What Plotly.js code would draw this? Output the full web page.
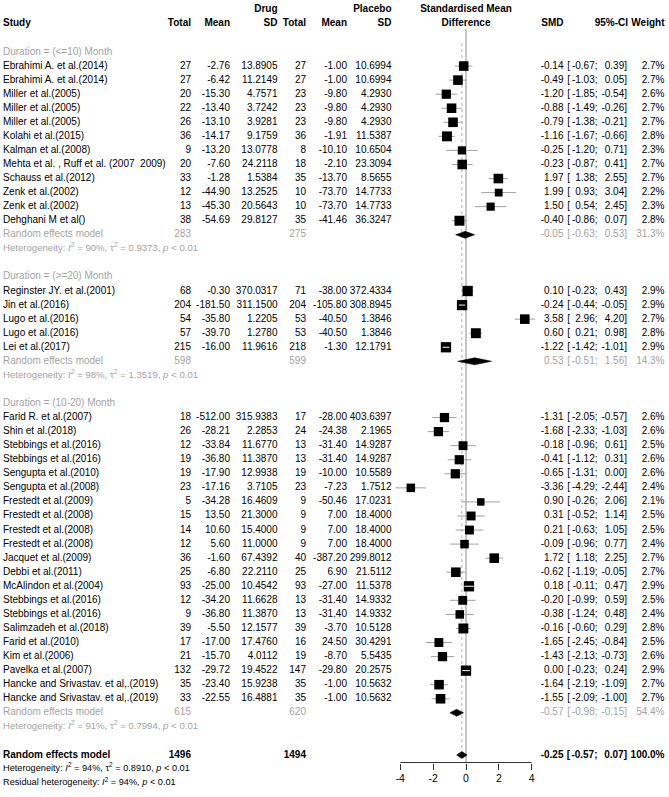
<!DOCTYPE html>
<html>
<head>
<meta charset="utf-8">
<script src="https://cdn.plot.ly/plotly-3.0.1.min.js"></script>
<style>
  html, body { margin: 0; padding: 0; background: #fff; }
  #chart { width: 669px; height: 797px; }
</style>
</head>
<body>
<div id="chart"></div>
<script>
// ---- data ----
const studies = [
  "Ebrahimi A. et al.(2014)", "Ebrahimi A. et al.(2014)", "Miller et al.(2005)", "Miller et al.(2005)",
  "Miller et al.(2005)", "Kolahi et al.(2015)", "Kalman et al.(2008)", "Mehta et al. , Ruff et al. (2007  2009)",
  "Schauss et al.(2012)", "Zenk et al.(2002)", "Zenk et al.(2002)", "Dehghani M et al()",
  "Reginster JY. et al.(2001)", "Jin et al.(2016)", "Lugo et al.(2016)", "Lugo et al.(2016)", "Lei et al.(2017)",
  "Farid R. et al.(2007)", "Shin et al.(2018)", "Stebbings et al.(2016)", "Stebbings et al.(2016)",
  "Sengupta et al.(2010)", "Sengupta et al.(2008)", "Frestedt et al.(2009)", "Frestedt et al.(2008)",
  "Frestedt et al.(2008)", "Frestedt et al.(2008)", "Jacquet et al.(2009)", "Debbi et al.(2011)",
  "McAlindon et al.(2004)", "Stebbings et al.(2016)", "Stebbings et al.(2016)", "Salimzadeh et al.(2018)",
  "Farid et al.(2010)", "Kim et al.(2006)", "Pavelka et al.(2007)",
  "Hancke and Srivastav. et al,.(2019)", "Hancke and Srivastav. et al,.(2019)"
]
const group = [0,0,0,0,0,0,0,0,0,0,0,0, 1,1,1,1,1, 2,2,2,2,2,2,2,2,2,2,2,2,2,2,2,2,2,2,2,2,2]

const drugN = [27,27,20,22,26,36,9,20,33,12,13,38, 68,204,54,57,215,
  18,26,12,19,19,23,5,15,14,12,36,25,93,12,9,39,17,21,132,35,33]
const drugMean = [-2.76,-6.42,-15.30,-13.40,-13.10,-14.17,-13.20,-7.60,-1.28,-44.90,-45.30,-54.69,
  -0.30,-181.50,-35.80,-39.70,-16.00,
  -512.00,-28.21,-33.84,-36.80,-17.90,-17.16,-34.28,13.50,10.60,5.60,-1.60,-6.80,-25.00,-34.20,-36.80,
  -5.50,-17.00,-15.70,-29.72,-23.40,-22.55]
const drugSd = [13.8905,11.2149,4.7571,3.7242,3.9281,9.1759,13.0778,24.2118,1.5384,13.2525,20.5643,29.8127,
  370.0317,311.1500,1.2205,1.2780,11.9616,
  315.9383,2.2853,11.6770,11.3870,12.9938,3.7105,16.4609,21.3000,15.4000,11.0000,67.4392,22.2110,10.4542,
  11.6628,11.3870,12.1577,17.4760,4.0112,19.4522,15.9238,16.4881]
const placeboN = [27,27,23,23,23,36,8,18,35,10,10,35, 71,204,53,53,218,
  17,24,13,13,19,23,9,9,9,9,40,25,93,13,13,39,16,19,147,35,35]
const placeboMean = [-1.00,-1.00,-9.80,-9.80,-9.80,-1.91,-10.10,-2.10,-13.70,-73.70,-73.70,-41.46,
  -38.00,-105.80,-40.50,-40.50,-1.30,
  -28.00,-24.38,-31.40,-31.40,-10.00,-7.23,-50.46,7.00,7.00,7.00,-387.20,6.90,-27.00,-31.40,-31.40,
  -3.70,24.50,-8.70,-29.80,-1.00,-1.00]
const placeboSd = [10.6994,10.6994,4.2930,4.2930,4.2930,11.5387,10.6504,23.3094,8.5655,14.7733,14.7733,36.3247,
  372.4334,308.8945,1.3846,1.3846,12.1791,
  403.6397,2.1965,14.9287,14.9287,10.5589,1.7512,17.0231,18.4000,18.4000,18.4000,299.8012,21.5112,11.5378,
  14.9332,14.9332,10.5128,30.4291,5.5435,20.2575,10.5632,10.5632]
const smd = [-0.14,-0.49,-1.20,-0.88,-0.79,-1.16,-0.25,-0.23,1.97,1.99,1.50,-0.40,
  0.10,-0.24,3.58,0.60,-1.22,
  -1.31,-1.68,-0.18,-0.41,-0.65,-3.36,0.90,0.31,0.21,-0.09,1.72,-0.62,0.18,-0.20,-0.38,-0.16,-1.65,-1.43,
  0.00,-1.64,-1.55]
const ciLow = [-0.67,-1.03,-1.85,-1.49,-1.38,-1.67,-1.20,-0.87,1.38,0.93,0.54,-0.86,
  -0.23,-0.44,2.96,0.21,-1.42,
  -2.05,-2.33,-0.96,-1.12,-1.31,-4.29,-0.26,-0.52,-0.63,-0.96,1.18,-1.19,-0.11,-0.99,-1.24,-0.60,-2.45,-2.13,
  -0.23,-2.19,-2.09]
const ciHigh = [0.39,0.05,-0.54,-0.26,-0.21,-0.66,0.71,0.41,2.55,3.04,2.45,0.07,
  0.43,-0.05,4.20,0.98,-1.01,
  -0.57,-1.03,0.61,0.31,0.00,-2.44,2.06,1.14,1.05,0.77,2.25,-0.05,0.47,0.59,0.48,0.29,-0.84,-0.73,
  0.24,-1.09,-1.00]
const weight = [2.7,2.7,2.6,2.7,2.7,2.8,2.3,2.7,2.7,2.2,2.3,2.8,
  2.9,2.9,2.7,2.8,2.9,
  2.6,2.6,2.5,2.6,2.6,2.4,2.1,2.5,2.5,2.4,2.7,2.7,2.9,2.5,2.4,2.8,2.5,2.6,2.9,2.7,2.7]

const subgroups = ["Duration = (<=10) Month", "Duration = (>=20) Month", "Duration = (10-20) Month"]
const subDrugN = [283, 598, 615]
const subPlaceboN = [275, 599, 620]
const subSmd = [-0.05, 0.53, -0.57]
const subLow = [-0.63, -0.51, -0.98]
const subHigh = [0.53, 1.56, -0.15]
const subWeight = [31.3, 14.3, 54.4]
const subI2 = [90, 98, 91]
const subTau2 = [0.9373, 1.3519, 0.7994]

const totalDrugN = 1496
const totalPlaceboN = 1494
const overallSmd = -0.25
const overallLow = -0.57
const overallHigh = 0.07
const overallI2 = 94
const overallTau2 = 0.8910
const residualI2 = 94

const tickVals = [-4, -2, 0, 2, 4]
const tickText = ["-4", "-2", "0", "2", "4"]

// ---- layout constants (pixels of the 669x797 picture) ----
const W = 669, H = 797
const FONT = '"Liberation Sans", Arial, sans-serif'
const BLACK = "#000000"
const GREY = "#a3a3a3"
const BODY = 10, SUB_HET = 9.6, ALL_HET = 9.2

const rowOf = px => 4 + (px - 52) / 14.06 // row 4 sits at y=52, rows 14.06px apart
const ZERO = 466, UNIT = 16.425 // x of SMD 0, px per SMD unit
const AXIS_ROW = rowOf(762.5)

const columns = {
  study:  { x: 3,     pos: "middle right" },
  dN:     { x: 191,   pos: "middle left" },
  dMean:  { x: 230,   pos: "middle left" },
  dSd:    { x: 277.5, pos: "middle left" },
  pN:     { x: 306,   pos: "middle left" },
  pMean:  { x: 347,   pos: "middle left" },
  pSd:    { x: 391.5, pos: "middle left" },
  center: { x: 466,   pos: "middle center" },
  smd:    { x: 563.5, pos: "middle left" },
  ciOpen: { x: 570,   pos: "middle left" },
  ciLow:  { x: 597.5, pos: "middle left" },
  ciHigh: { x: 627,   pos: "middle left" },
  ciHead: { x: 628,   pos: "middle left" },
  weight: { x: 664.5, pos: "middle left" },
}

const esc = s => s.replace(/&/g, "&amp;").replace(/</g, "&lt;").replace(/>/g, "&gt;")
const lines = {}
const put = (col, row, text, color = BLACK, size = BODY) => {
  if (!lines[col]) lines[col] = { y: [], text: [], color: [], size: [] }
  lines[col].y.push(row)
  lines[col].text.push(text)
  lines[col].color.push(color)
  lines[col].size.push(size)
}
const putCi = (row, lo, hi, color, bold) => {
  const b = s => (bold ? `<b>${s}</b>` : s)
  put("ciOpen", row, b("["), color)
  put("ciLow", row, b(lo.toFixed(2) + ";"), color)
  put("ciHigh", row, b(hi.toFixed(2) + "]"), color)
}
const het = (i2, tau2) =>
  `Heterogeneity: <i>I</i><sup>2</sup> = ${i2}%, τ<sup>2</sup> = ${tau2.toFixed(4)}, <i>p</i> &lt; 0.01`

// forest marks
const ciX = [], ciY = [], sqX = [], sqY = [], sqSize = [], inX = [], inY = []
const diamonds = []

// headers
put("dSd", 1, "<b>Drug</b>")
put("pSd", 1, "<b>Placebo</b>")
put("center", 1, "<b>Standardised Mean</b>")
put("study", 2, "<b>Study</b>")
put("dN", 2, "<b>Total</b>")
put("dMean", 2, "<b>Mean</b>")
put("dSd", 2, "<b>SD</b>")
put("pN", 2, "<b>Total</b>")
put("pMean", 2, "<b>Mean</b>")
put("pSd", 2, "<b>SD</b>")
put("center", 2, "<b>Difference</b>")
put("smd", 2, "<b>SMD</b>")
put("ciHead", 2, "<b>95%-CI</b>")
put("weight", 2, "<b>Weight</b>")

let row = 4
subgroups.forEach((label, g) => {
  put("study", row, esc(label), GREY)
  row++
  studies.forEach((name, i) => {
    if (group[i] !== g) return
    put("study", row, esc(name))
    put("dN", row, String(drugN[i]))
    put("dMean", row, drugMean[i].toFixed(2))
    put("dSd", row, drugSd[i].toFixed(4))
    put("pN", row, String(placeboN[i]))
    put("pMean", row, placeboMean[i].toFixed(2))
    put("pSd", row, placeboSd[i].toFixed(4))
    put("smd", row, smd[i].toFixed(2))
    putCi(row, ciLow[i], ciHigh[i], BLACK, false)
    put("weight", row, weight[i].toFixed(1) + "%")

    const size = 10.3 * weight[i] / 2.9
    const half = size / 2 / UNIT
    ciX.push(ciLow[i], ciHigh[i], null)
    ciY.push(row, row, null)
    sqX.push(smd[i]); sqY.push(row); sqSize.push(size)
    if (ciLow[i] >= smd[i] - half && ciHigh[i] <= smd[i] + half) {
      inX.push(ciLow[i], ciHigh[i], null)
      inY.push(row, row, null)
    }
    row++
  })
  put("study", row, "Random effects model", GREY)
  put("dN", row, String(subDrugN[g]), GREY)
  put("pN", row, String(subPlaceboN[g]), GREY)
  put("smd", row, subSmd[g].toFixed(2), GREY)
  putCi(row, subLow[g], subHigh[g], GREY, false)
  put("weight", row, subWeight[g].toFixed(1) + "%", GREY)
  diamonds.push({ lo: subLow[g], est: subSmd[g], hi: subHigh[g], row })
  row++
  put("study", row, het(subI2[g], subTau2[g]), GREY, SUB_HET)
  row += 2
})

const overallRow = row
put("study", row, "<b>Random effects model</b>")
put("dN", row, `<b>${totalDrugN}</b>`)
put("pN", row, `<b>${totalPlaceboN}</b>`)
put("smd", row, `<b>${overallSmd.toFixed(2)}</b>`)
putCi(row, overallLow, overallHigh, BLACK, true)
put("weight", row, "<b>100.0%</b>")
diamonds.push({ lo: overallLow, est: overallSmd, hi: overallHigh, row })
put("study", row + 1, het(overallI2, overallTau2), BLACK, ALL_HET)
put("study", row + 2, `Residual heterogeneity: <i>I</i><sup>2</sup> = ${residualI2}%, <i>p</i> &lt; 0.01`, BLACK, ALL_HET)

// ---- traces ----
const traces = []
traces.push({
  x: ciX, y: ciY, mode: "lines", line: { color: "#a0a0a0", width: 1 },
  xaxis: "x", yaxis: "y", hoverinfo: "skip",
})
traces.push({
  x: sqX, y: sqY, mode: "markers",
  marker: { symbol: "square", size: sqSize, color: BLACK, opacity: 1, line: { width: 0 } },
  xaxis: "x", yaxis: "y", hoverinfo: "skip", cliponaxis: false,
})
traces.push({
  x: inX, y: inY, mode: "lines", line: { color: "#ffffff", width: 1 },
  xaxis: "x", yaxis: "y", hoverinfo: "skip",
})
diamonds.forEach(d => {
  traces.push({
    x: [d.lo, d.est, d.hi, d.est, d.lo],
    y: [d.row, d.row - 0.25, d.row, d.row + 0.25, d.row],
    mode: "lines", fill: "toself", fillcolor: BLACK,
    line: { color: BLACK, width: 0.5 },
    xaxis: "x", yaxis: "y", hoverinfo: "skip",
  })
})
Object.keys(lines).forEach(key => {
  const c = lines[key]
  traces.push({
    x: c.y.map(() => columns[key].x), y: c.y, text: c.text,
    mode: "text", textposition: columns[key].pos,
    textfont: { family: FONT, size: c.size, color: c.color },
    xaxis: "x2", yaxis: "y", hoverinfo: "skip", cliponaxis: false,
  })
})

const yTop = rowOf(0), yBottom = rowOf(H)

const layout = {
  width: W, height: H,
  margin: { l: 0, r: 0, t: 0, b: 0 },
  paper_bgcolor: "#ffffff", plot_bgcolor: "#ffffff",
  showlegend: false, hovermode: false,
  font: { family: FONT, size: BODY, color: BLACK },
  xaxis: {
    domain: [0, 1],
    range: [-ZERO / UNIT, (W - ZERO) / UNIT],
    anchor: "free",
    position: (yBottom - AXIS_ROW) / (yBottom - yTop),
    tickmode: "array", tickvals: tickVals, ticktext: tickText,
    ticks: "outside", ticklen: 6, tickcolor: "#333333", tickwidth: 1,
    tickfont: { family: FONT, size: 10.5, color: BLACK },
    showgrid: false, zeroline: false, showline: false,
  },
  xaxis2: {
    overlaying: "x", anchor: "y", range: [0, W], visible: false,
  },
  yaxis: {
    domain: [0, 1], range: [yBottom, yTop], visible: false,
  },
  shapes: [
    { type: "line", xref: "x", yref: "y", layer: "below", x0: 0, x1: 0, y0: rowOf(29), y1: AXIS_ROW,
      line: { color: "#8c8c8c", width: 1 } },
    { type: "line", xref: "x", yref: "y", layer: "below", x0: overallSmd, x1: overallSmd, y0: rowOf(43), y1: overallRow,
      line: { color: "#b0b0b0", width: 1, dash: "dot" } },
    { type: "line", xref: "x", yref: "y", x0: tickVals[0], x1: tickVals[tickVals.length - 1], y0: AXIS_ROW, y1: AXIS_ROW,
      line: { color: "#333333", width: 1 } },
  ],
}

Plotly.newPlot("chart", traces, layout, { staticPlot: true, displayModeBar: false })
</script>
</body>
</html>
